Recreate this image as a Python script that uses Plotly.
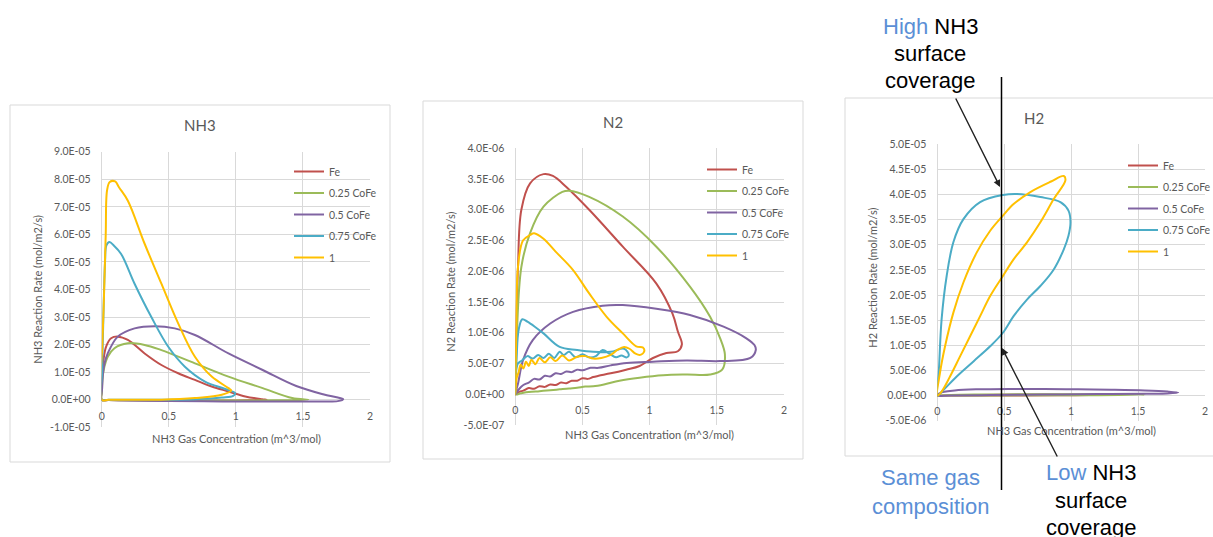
import plotly.graph_objects as go

W, H = 1213, 537

# ---------------- DATA ----------------
series_names = ["Fe", "0.25 CoFe", "0.5 CoFe", "0.75 CoFe", "1"]
series_colors = ["#C0504D", "#9BBB59", "#8064A2", "#4BACC6", "#FFC000"]
x_ticks = [0, 0.5, 1, 1.5, 2]

# Panel 1: NH3 reaction rate (units of 1e-5 mol/m2/s)
nh3_unit = 1e-5
nh3_fe_x = [0, 0.002, 0.005, 0.015, 0.033, 0.07, 0.12, 0.195, 0.32, 0.445, 0.57, 0.695, 0.82, 0.945, 1.07, 1.195, 1.23, 1.1, 0.8, 0.5, 0.2, 0.05, 0]
nh3_fe_y = [0, 0.4, 0.96, 1.5, 1.93, 2.23, 2.29, 2.17, 1.68, 1.26, 0.96, 0.72, 0.48, 0.30, 0.12, 0.02, 0.0, -0.02, -0.03, -0.03, -0.02, -0.01, 0]
nh3_g_x = [0, 0.002, 0.005, 0.02, 0.045, 0.095, 0.195, 0.32, 0.445, 0.695, 0.945, 1.2, 1.42, 1.54, 1.3, 0.9, 0.5, 0.2, 0.05, 0]
nh3_g_y = [0, 0.3, 0.72, 1.2, 1.56, 1.87, 2.05, 1.99, 1.80, 1.32, 0.84, 0.42, 0.06, 0.0, -0.02, -0.03, -0.03, -0.02, -0.01, 0]
nh3_p_x = [0, 0.003, 0.0075, 0.02, 0.045, 0.12, 0.245, 0.395, 0.545, 0.695, 0.945, 1.2, 1.45, 1.65, 1.76, 1.8, 1.76, 1.6, 1.3, 0.9, 0.5, 0.2, 0.05, 0]
nh3_p_y = [0, 0.4, 0.84, 1.3, 1.68, 2.29, 2.59, 2.67, 2.59, 2.35, 1.68, 1.08, 0.5, 0.2, 0.08, 0.02, -0.05, -0.06, -0.06, -0.06, -0.05, -0.03, -0.01, 0]
nh3_c_x = [0, 0.003, 0.01, 0.025, 0.035, 0.058, 0.09, 0.145, 0.245, 0.37, 0.495, 0.62, 0.77, 0.92, 0.995, 0.98, 0.895, 0.695, 0.45, 0.2, 0.05, 0]
nh3_c_y = [0, 1.0, 2.5, 5.0, 5.6, 5.72, 5.6, 5.29, 4.21, 3.0, 1.93, 1.2, 0.66, 0.39, 0.24, 0.14, 0.08, 0.02, 0.0, 0.0, 0.0, 0]
nh3_y_x = [0, 0.005, 0.015, 0.03, 0.04, 0.06, 0.1, 0.13, 0.195, 0.32, 0.445, 0.57, 0.695, 0.82, 0.945, 0.965, 0.895, 0.695, 0.445, 0.2, 0.05, 0]
nh3_y_y = [0, 2.0, 3.4, 6.0, 7.6, 7.9, 7.92, 7.7, 7.22, 5.66, 4.21, 2.77, 1.56, 0.84, 0.42, 0.34, 0.18, 0.06, 0.0, 0.0, 0.0, 0]

# Panel 2: N2 reaction rate (units of 1e-7 mol/m2/s)
n2_unit = 1e-7
n2_fe_x = [0, 0.003, 0.007, 0.02, 0.045, 0.11, 0.21, 0.28, 0.38, 0.55, 0.8, 1.05, 1.17, 1.21, 1.24, 1.21, 1.125, 1.025, 0.925, 0.825, 0.71, 0.62, 0.58, 0.54, 0.50, 0.46, 0.42, 0.38, 0.34, 0.30, 0.26, 0.22, 0.18, 0.14, 0.10, 0.06, 0.03, 0]
n2_fe_y = [0, 4.0, 9.9, 20.7, 30.0, 34.3, 35.8, 35.5, 33.7, 30.0, 24.0, 18.0, 13.1, 10.2, 8.1, 7.0, 6.7, 5.9, 4.6, 4.0, 3.4, 3.0, 2.8, 2.5, 2.6, 2.2, 2.2, 1.8, 1.9, 1.5, 1.6, 1.2, 1.3, 0.9, 1.0, 0.6, 0.4, 0]
n2_g_x = [0, 0.005, 0.012, 0.045, 0.11, 0.21, 0.35, 0.4, 0.55, 0.8, 1.05, 1.3, 1.45, 1.525, 1.56, 1.54, 1.45, 1.275, 1.1, 0.925, 0.775, 0.66, 0.58, 0.52, 0.46, 0.40, 0.33, 0.26, 0.18, 0.10, 0.04, 0]
n2_g_y = [0, 4.0, 9.9, 20.7, 26.2, 30.5, 32.9, 33.1, 32.1, 28.9, 24.0, 17.5, 12.6, 9.1, 6.5, 4.0, 3.2, 3.2, 3.1, 2.7, 2.2, 1.6, 1.3, 1.25, 1.05, 0.95, 0.8, 0.65, 0.5, 0.35, 0.15, 0]
n2_p_x = [0, 0.02, 0.057, 0.13, 0.26, 0.43, 0.65, 0.80, 1.05, 1.30, 1.55, 1.72, 1.78, 1.79, 1.75, 1.525, 1.275, 1.025, 0.83, 0.71, 0.62, 0.56, 0.50, 0.46, 0.42, 0.38, 0.34, 0.30, 0.26, 0.22, 0.18, 0.14, 0.10, 0.06, 0.03, 0]
n2_p_y = [0, 1.7, 5.5, 8.8, 11.5, 13.4, 14.4, 14.5, 13.9, 12.9, 11.0, 9.1, 8.0, 7.2, 5.9, 5.4, 5.5, 5.3, 5.1, 4.7, 4.3, 4.3, 3.9, 4.0, 3.6, 3.7, 3.3, 3.4, 2.9, 3.0, 2.4, 2.5, 1.9, 1.5, 0.9, 0]
n2_c_x = [0, 0.003, 0.01, 0.025, 0.052, 0.09, 0.15, 0.21, 0.33, 0.46, 0.58, 0.71, 0.81, 0.845, 0.83, 0.79, 0.75, 0.70, 0.65, 0.60, 0.55, 0.50, 0.45, 0.40, 0.36, 0.33, 0.29, 0.25, 0.21, 0.17, 0.13, 0.09, 0.05, 0.02, 0.005, 0]
n2_c_y = [0, 2.0, 6.0, 10.5, 12.2, 11.8, 10.9, 9.9, 7.7, 7.2, 6.9, 6.9, 7.4, 6.4, 6.0, 6.3, 6.0, 6.6, 7.2, 6.2, 6.0, 6.5, 6.0, 6.9, 6.4, 6.9, 5.9, 6.6, 5.9, 6.4, 5.8, 6.2, 5.5, 5.0, 3.5, 0]
n2_y_x = [0, 0.003, 0.007, 0.02, 0.057, 0.11, 0.14, 0.21, 0.3, 0.43, 0.55, 0.68, 0.8, 0.9, 0.95, 0.96, 0.93, 0.895, 0.85, 0.81, 0.76, 0.71, 0.64, 0.58, 0.52, 0.46, 0.40, 0.35, 0.30, 0.26, 0.22, 0.18, 0.15, 0.12, 0.10, 0.08, 0.06, 0.04, 0.025, 0.01, 0]
n2_y_y = [0, 4.0, 9.9, 20.7, 25.0, 25.9, 26.2, 25.3, 23.2, 20.2, 16.4, 12.6, 9.9, 7.8, 7.6, 7.0, 6.4, 6.6, 7.4, 7.7, 7.2, 6.4, 5.9, 5.8, 6.2, 6.1, 5.5, 6.3, 5.4, 6.0, 5.2, 5.9, 4.9, 5.6, 4.6, 5.3, 4.2, 4.8, 3.6, 2.6, 0]

# Panel 3: H2 reaction rate (units of 1e-6 mol/m2/s)
h2_unit = 1e-6
h2_fe_x = [0, 0.1, 0.3, 0.6, 0.9, 1.23, 0.9, 0.5, 0.1, 0]
h2_fe_y = [0, 0.08, 0.12, 0.16, 0.18, 0.15, 0.06, 0.03, 0.0, 0]
h2_g_x = [0, 0.1, 0.3, 0.6, 0.9, 1.2, 1.55, 1.2, 0.8, 0.4, 0.1, 0]
h2_g_y = [0, 0.12, 0.2, 0.25, 0.28, 0.28, 0.22, 0.08, 0.05, 0.03, 0.0, 0]
h2_p_x = [0, 0.02, 0.13, 0.3, 0.555, 0.8, 1.05, 1.3, 1.55, 1.72, 1.8, 1.72, 1.55, 1.2, 0.8, 0.4, 0.1, 0]
h2_p_y = [0, 0.5, 1.0, 1.25, 1.33, 1.3, 1.25, 1.15, 1.0, 0.8, 0.6, 0.42, 0.38, 0.3, 0.2, 0.1, 0.02, 0]
h2_c_x = [0, 0.012, 0.032, 0.07, 0.12, 0.195, 0.32, 0.49, 0.595, 0.77, 0.92, 0.98, 0.995, 0.98, 0.945, 0.87, 0.77, 0.67, 0.57, 0.49, 0.395, 0.27, 0.145, 0.045, 0]
h2_c_y = [0, 5.1, 15.1, 23.8, 30.5, 35.1, 38.5, 39.9, 40.1, 39.5, 38.5, 36.8, 34.5, 31.8, 29.1, 25.1, 21.8, 19.1, 15.8, 12.5, 9.8, 6.8, 3.8, 1.1, 0]
h2_y_x = [0, 0.02, 0.058, 0.12, 0.195, 0.295, 0.395, 0.49, 0.57, 0.695, 0.85, 0.945, 0.957, 0.87, 0.77, 0.67, 0.57, 0.49, 0.395, 0.32, 0.245, 0.17, 0.095, 0.032, 0]
h2_y_y = [0, 4.5, 9.8, 16.5, 22.5, 28.5, 32.8, 35.8, 38.1, 40.5, 42.6, 43.7, 42.8, 39.1, 34.5, 30.5, 27.1, 23.8, 19.8, 15.8, 11.8, 7.8, 3.8, 0.8, 0]

nh3_ticks = [-1, 0, 1, 2, 3, 4, 5, 6, 7, 8, 9]          # x 1e-5
n2_ticks = [-5, 0, 5, 10, 15, 20, 25, 30, 35, 40]       # x 1e-7
h2_ticks = [-5, 0, 5, 10, 15, 20, 25, 30, 35, 40, 45, 50]  # x 1e-6

# ---------------- HELPERS ----------------
def px(x):
    return x / W

def py(y):
    return 1 - y / H

GRID = "#D9D9D9"
TXT = "#595959"
FONT = "Lato"

panels = [
    dict(title="NH3", ylab="NH3 Reaction Rate (mol/m2/s)", unit=nh3_unit, ticks=nh3_ticks,
         plot=(101.7, 370, 151.7, 427.3), zero=400, box=(10, 390, 105, 462),
         title_xy=(200, 124.5), ylab_xy=(36.7, 289), xlab_xy=(236.7, 438), leg=(289, 157),
         data=[(nh3_fe_x, nh3_fe_y), (nh3_g_x, nh3_g_y), (nh3_p_x, nh3_p_y), (nh3_c_x, nh3_c_y), (nh3_y_x, nh3_y_y)]),
    dict(title="N2", ylab="N2 Reaction Rate (mol/m2/s)", unit=n2_unit, ticks=n2_ticks,
         plot=(515.3, 784, 148.3, 425), zero=394, box=(423, 803, 101, 459),
         title_xy=(613, 122.5), ylab_xy=(449.7, 282), xlab_xy=(649.7, 434.3), leg=(702, 155),
         data=[(n2_fe_x, n2_fe_y), (n2_g_x, n2_g_y), (n2_p_x, n2_p_y), (n2_c_x, n2_c_y), (n2_y_x, n2_y_y)]),
    dict(title="H2", ylab="H2 Reaction Rate (mol/m2/s)", unit=h2_unit, ticks=h2_ticks,
         plot=(937.3, 1205, 144.3, 420.7), zero=395, box=(845, 1225, 98, 456),
         title_xy=(1034, 118.5), ylab_xy=(871.7, 278), xlab_xy=(1071.7, 430.7), leg=(1123, 151),
         data=[(h2_fe_x, h2_fe_y), (h2_g_x, h2_g_y), (h2_p_x, h2_p_y), (h2_c_x, h2_c_y), (h2_y_x, h2_y_y)]),
]

fig = go.Figure()
layout = dict(width=W, height=H, autosize=False,
              margin=dict(l=0, r=0, t=0, b=0, pad=0, autoexpand=False),
              paper_bgcolor="white", plot_bgcolor="white", showlegend=True,
              font=dict(family=FONT, color=TXT))
annotations = []
shapes = []

def label(text, x, y, size, color=TXT, family=FONT, angle=0):
    return dict(text=text, x=px(x), y=py(y), xref="paper", yref="paper", showarrow=False,
                xanchor="center", yanchor="middle", textangle=angle,
                font=dict(size=size, color=color, family=family))

for i, p in enumerate(panels):
    n = "" if i == 0 else str(i + 1)
    xa, ya = "x" + n, "y" + n
    leg = "legend" + n
    x0, x1, y0, y1 = p["plot"]
    u = p["unit"]
    for j, (xs, ys) in enumerate(p["data"]):
        fig.add_trace(go.Scatter(
            x=xs, y=[v * u for v in ys], mode="lines", name=series_names[j],
            line=dict(color=series_colors[j], width=2, shape="spline", smoothing=1.0),
            xaxis=xa, yaxis=ya, legend=leg, legendgroup=f"p{i}s{j}", hoverinfo="skip"))
    tv = [t * u for t in p["ticks"]]
    layout["xaxis" + n] = dict(domain=[px(x0), px(x1)], range=[0, 2], anchor="free",
                               position=py(p["zero"]), tickvals=x_ticks,
                               ticktext=[f"{t:g}" for t in x_ticks],
                               showgrid=True, gridcolor=GRID, gridwidth=1,
                               zeroline=True, zerolinecolor=GRID, zerolinewidth=1,
                               showline=False, ticks="", ticklabelstandoff=8, automargin=False,
                               tickfont=dict(size=10.5, color=TXT, family=FONT), fixedrange=True)
    layout["yaxis" + n] = dict(domain=[py(y1), py(y0)], range=[tv[0], tv[-1]], anchor=xa,
                               tickvals=tv, ticktext=[f"{v:.1E}" for v in tv],
                               showgrid=True, gridcolor=GRID, gridwidth=1,
                               zeroline=True, zerolinecolor=GRID, zerolinewidth=1,
                               showline=False, ticks="", ticklabelstandoff=10, automargin=False,
                               tickfont=dict(size=10.5, color=TXT, family=FONT), fixedrange=True)
    layout[leg] = dict(x=px(p["leg"][0]), y=py(p["leg"][1]), xanchor="left", yanchor="top",
                       bgcolor="rgba(0,0,0,0)", borderwidth=0, itemwidth=30,
                       tracegroupgap=2.5, font=dict(size=10.5, color=TXT, family=FONT))
    bx0, bx1, by0, by1 = p["box"]
    shapes.append(dict(type="rect", xref="paper", yref="paper", x0=px(bx0), x1=px(bx1),
                       y0=py(by1), y1=py(by0), line=dict(color=GRID, width=1), layer="below"))
    annotations.append(label(p["title"], *p["title_xy"], 15))
    annotations.append(label(p["ylab"], *p["ylab_xy"], 11, angle=-90))
    annotations.append(label("NH3 Gas Concentration (m^3/mol)", *p["xlab_xy"], 11))

BLUE = "#5B8FD6"
AF = "Liberation Sans"
note_lines = [
    (f"<span style='color:{BLUE}'>High</span> NH3", 930, 26.5, "black"),
    ("surface", 930, 53.5, "black"),
    ("coverage", 930, 80.5, "black"),
    ("Same gas", 930, 477, BLUE),
    ("composition", 930, 506, BLUE),
    (f"<span style='color:{BLUE}'>Low</span> NH3", 1091, 472, "black"),
    ("surface", 1091, 500, "black"),
    ("coverage", 1091, 527, "black"),
]
for t, x, y, c in note_lines:
    annotations.append(label(t, x, y, 22, c, AF))

annotations += [
    dict(text="", x=px(1000), y=py(187), xref="paper", yref="paper", showarrow=True,
         ax=-45, ay=-90, arrowhead=2, arrowsize=1, arrowwidth=1.4, arrowcolor="#222222"),
    dict(text="", x=px(1002), y=py(348), xref="paper", yref="paper", showarrow=True,
         ax=56, ay=110, arrowhead=2, arrowsize=1, arrowwidth=1.4, arrowcolor="#222222"),
]
shapes.append(dict(type="line", xref="paper", yref="paper", x0=px(1001.5), x1=px(1001.5),
                   y0=py(490), y1=py(77), line=dict(color="black", width=1.5)))

layout["annotations"] = annotations
layout["shapes"] = shapes
fig.update_layout(**layout)
fig.write_html("out.html", config={"displayModeBar": False},
               post_script=("document.documentElement.style.overflow='hidden';"
                            "document.body.style.overflow='hidden';"
                            "document.body.style.margin='0';document.body.style.padding='0';"))
